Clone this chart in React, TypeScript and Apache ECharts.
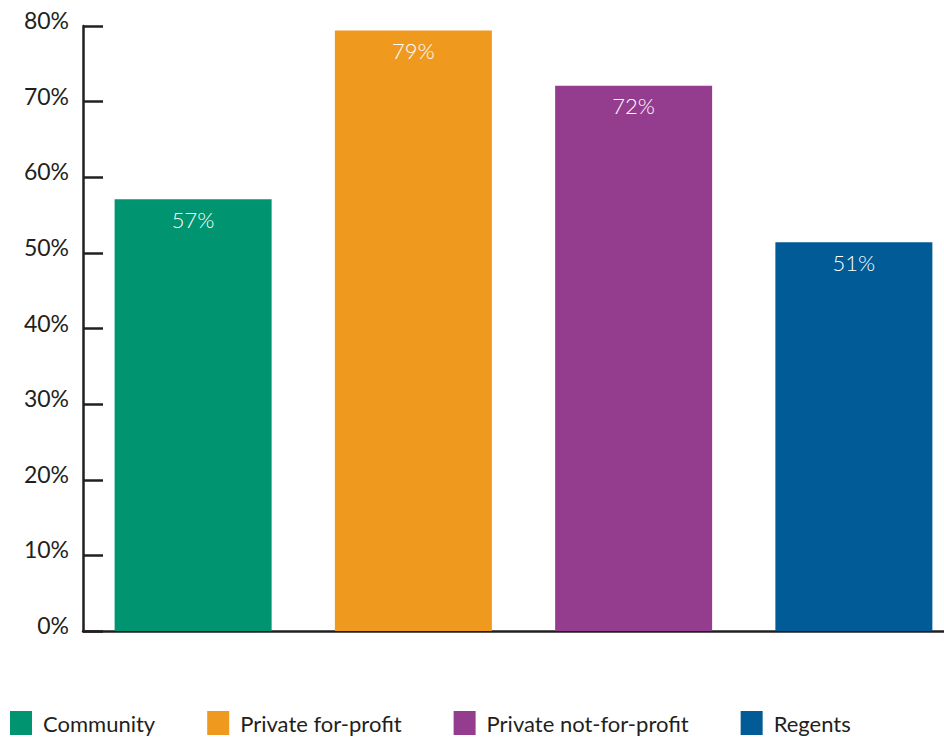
import React, { useEffect, useRef } from "react";
import * as echarts from "echarts";

const categories = ["Community", "Private for-profit", "Private not-for-profit", "Regents"];
const values = [57.1, 79.4, 72.1, 51.4];
const colors = ["#009470", "#ef9a1f", "#943d8f", "#005b96"];
const yTicks = { min: 0, max: 80, interval: 10 };

export default function App() {
  const ref = useRef<HTMLDivElement>(null);
  useEffect(() => {
    document.body.style.margin = "0";
    const chart = echarts.init(ref.current!, null, { renderer: "svg" });
    const font = "Lato, 'Open Sans', sans-serif";
    const series = categories.map((name, i) => ({
      name,
      type: "bar",
      stack: "all",
      barWidth: 157,
      itemStyle: { color: colors[i] },
      data: categories.map((_, j) => (j === i ? values[i] : "-")),
      label: {
        show: true,
        position: "insideTop",
        distance: 9,
        color: "#ffffff",
        fontSize: 22,
        fontWeight: 300,
        fontFamily: font,
        formatter: (p: any) => Math.round(p.value) + "%",
      },
    }));
    chart.setOption({
      animation: false,
      grid: {
        left: 83,
        top: 26,
        height: 605,
        width: 881,
        containLabel: false,
        outerBoundsMode: "none",
      },
      legend: {
        left: 10,
        top: 711,
        padding: 0,
        itemWidth: 22,
        itemHeight: 24,
        itemGap: 52,
        icon: "rect",
        selectedMode: false,
        textStyle: { fontSize: 22, color: "#231f20", fontFamily: font, padding: [0, 0, 0, 6] },
        data: categories,
      },
      xAxis: {
        type: "category",
        data: categories,
        axisLine: { lineStyle: { color: "#231f20", width: 2.5 } },
        axisTick: { show: false },
        axisLabel: { show: false },
      },
      yAxis: {
        type: "value",
        min: yTicks.min,
        max: yTicks.max,
        interval: yTicks.interval,
        splitLine: { show: false },
        axisLine: { show: true, lineStyle: { color: "#231f20", width: 2.5 } },
        axisTick: { show: true, inside: true, length: 20, lineStyle: { color: "#231f20", width: 2.5 } },
        axisLabel: {
          formatter: "{value}%",
          fontSize: 23,
          color: "#231f20",
          fontFamily: font,
          margin: 14,
          verticalAlign: "bottom",
          lineHeight: 12,
        },
      },
      series,
    });
    return () => chart.dispose();
  }, []);
  return <div ref={ref} style={{ width: 944, height: 740 }} />;
}
